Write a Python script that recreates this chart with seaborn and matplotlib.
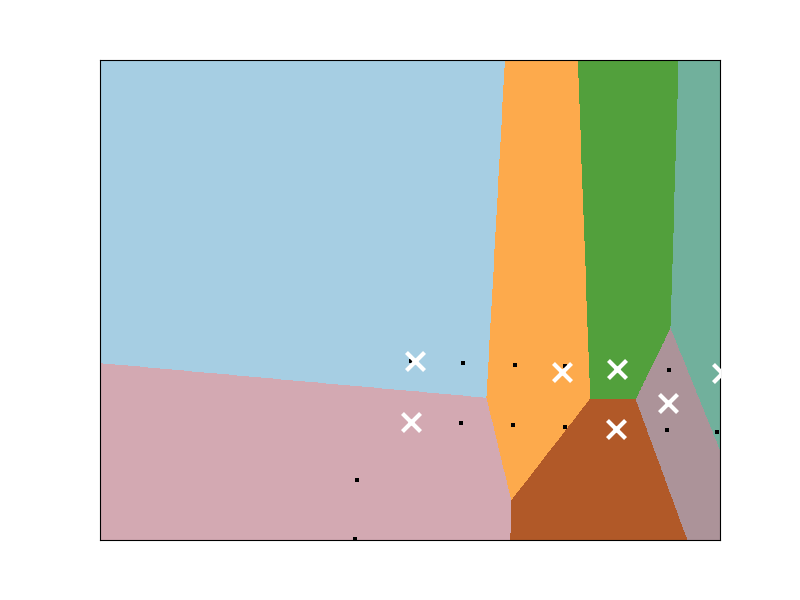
import numpy as np
import pandas as pd
import matplotlib
matplotlib.use("Agg")
import matplotlib.pyplot as plt
from matplotlib.colors import ListedColormap
import seaborn as sns

# Cluster centroids (data units) and their region colours
centroid_x = [0.152, 0.023, 4.894, 6.668, 6.645, 8.323, 10.065]
centroid_y = [-1.674, -3.357, -1.978, -1.903, -3.567, -2.847, -2.022]
region_colors = ["#a6cee3", "#d3a9b2", "#fdaa4c", "#52a03c", "#b15928", "#ac9399", "#71b09c"]

# Data points
point_x = [1.710, 3.387, 5.000, 8.355, 8.290, 9.903, 1.645, 3.323, -1.710, -1.774, 0.023, 5.000]
point_y = [-1.738, -1.793, -3.503, -1.931, -3.586, -3.641, -3.393, -3.448, -4.966, -6.593, -1.674, -1.812]

x_range = [-10.0, 10.0]
y_range = [-6.62, 6.62]

sns.set_style("white")
fig = plt.figure(figsize=(8, 6), dpi=100)
ax = fig.add_axes([0.125, 0.1, 0.775, 0.8])

# Decision regions: nearest centroid on a fine mesh
h = 0.01
xs = np.arange(x_range[0], x_range[1] + h, h)
ys = np.arange(y_range[0], y_range[1] + h, h)
xx, yy = np.meshgrid(xs, ys)
cx = np.array(centroid_x)[:, None, None]
cy = np.array(centroid_y)[:, None, None]
d = (xx[None] - cx) ** 2 + (yy[None] - cy) ** 2
Z = np.argmin(d, axis=0)

ax.imshow(Z, interpolation="nearest", origin="lower",
          extent=(xs.min(), xs.max(), ys.min(), ys.max()),
          cmap=ListedColormap(region_colors), vmin=-0.5, vmax=len(region_colors) - 0.5,
          aspect="auto")

pts = pd.DataFrame({"x": point_x, "y": point_y})
sns.scatterplot(data=pts, x="x", y="y", ax=ax, color="k", marker="s", s=10,
                linewidth=0, zorder=5)

cen = pd.DataFrame({"x": centroid_x, "y": centroid_y})
sns.scatterplot(data=cen, x="x", y="y", ax=ax, color="w", marker="x", s=169,
                linewidth=3, zorder=10)

ax.set_xlim(x_range)
ax.set_ylim(y_range)
ax.set_xticks([])
ax.set_yticks([])
ax.set_xlabel("")
ax.set_ylabel("")
for sp in ax.spines.values():
    sp.set_visible(True)
    sp.set_color("black")
    sp.set_linewidth(0.8)

fig.savefig("out.png", dpi=100)
